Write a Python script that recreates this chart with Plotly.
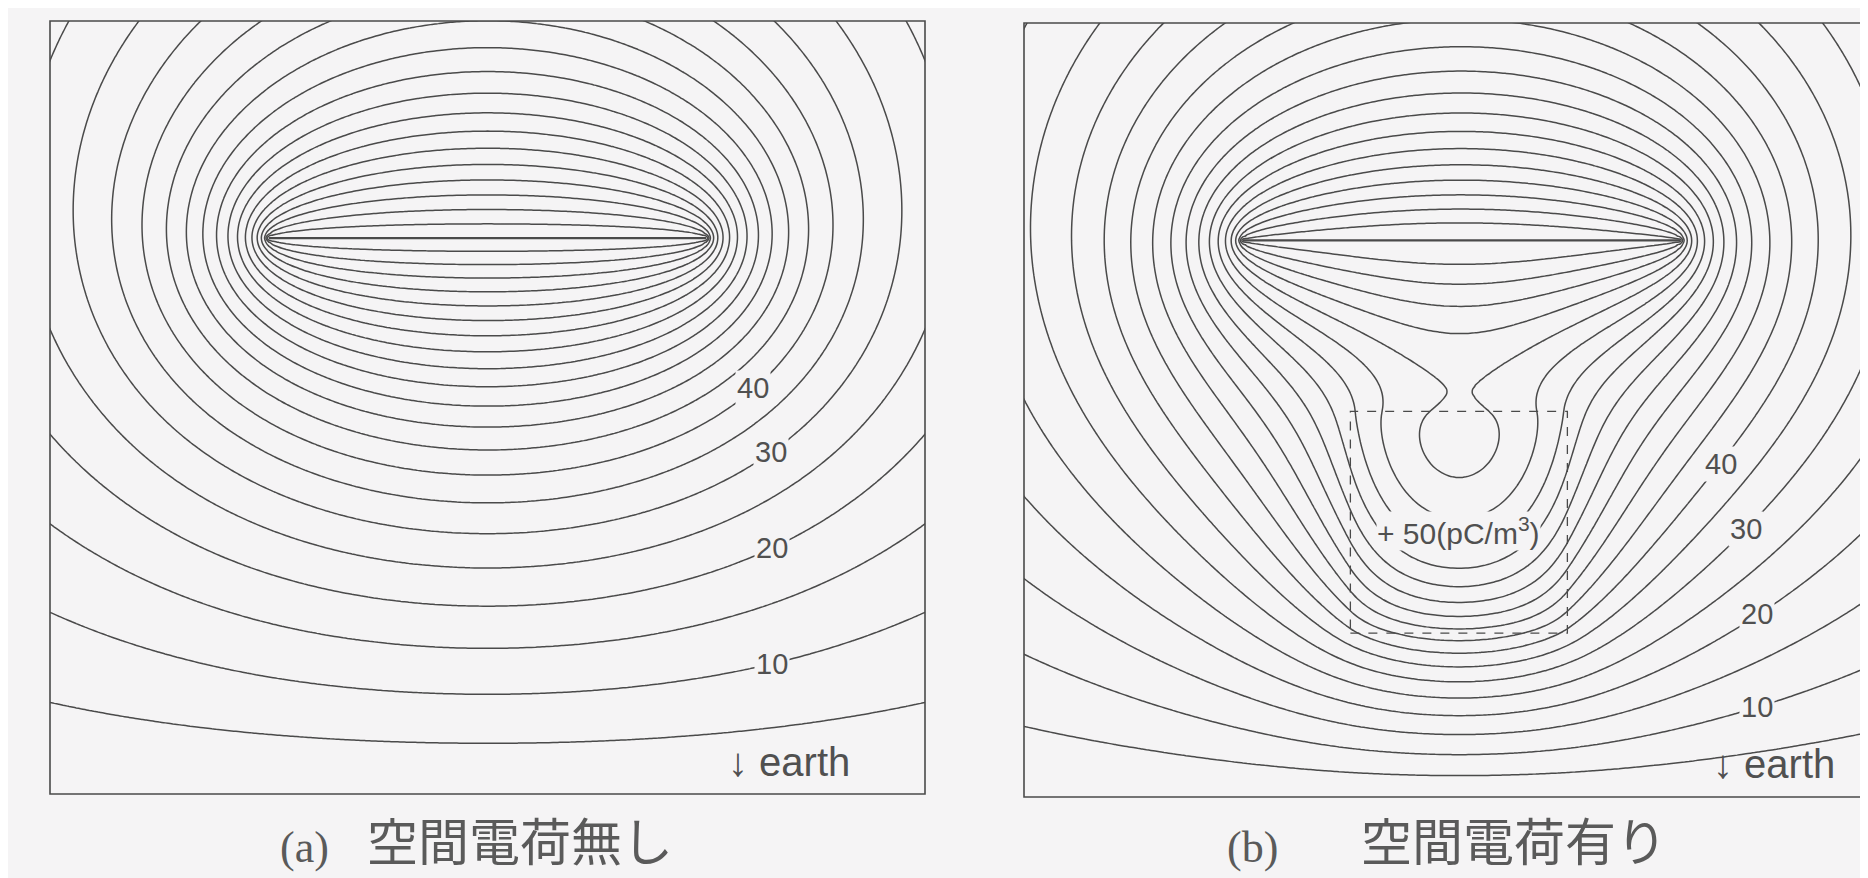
import numpy as np
import plotly.graph_objects as go

# ---------------- values (frame width = 100 units) ----------------
frame_w = 100.0
frame_h = 88.3
electrode_x = [25.0, 75.0]        # plate electrode (seen edge-on)
electrode_y = 63.5                # height above the earth (bottom edge)
electrode_v = 110.0               # electrode potential
levels = [5, 105, 5]              # contour start, end, step
label_levels = [10, 20, 30, 40]
box_x = [37.3, 62.1]              # space charge region (panel b)
box_y = [18.7, 44.0]
box_text = "+ 50(pC/m<sup>3</sup>)"
box_depth = 12.4
space_charge = 0.041              # source strength inside the region (model units)
captions = [("(a)", "空間電荷無し"), ("(b)", "空間電荷有り")]
earth_text = "↓ earth"

xs = np.arange(-3.0, 103.0 + 1e-9, 0.5)
ys = np.arange(0.0, 92.0 + 1e-9, 0.5)
X, Y = np.meshgrid(xs, ys)
xc = 0.5 * (electrode_x[0] + electrode_x[1])
ra = 0.5 * (electrode_x[1] - electrode_x[0])


def disk(r, zeta):
    p1 = np.sqrt((r - ra) ** 2 + zeta ** 2)
    p2 = np.sqrt((r + ra) ** 2 + zeta ** 2)
    return (2 / np.pi) * np.arcsin(np.clip(2 * ra / (p1 + p2), -1, 1))


def electrode_field(px, pz):
    r = np.abs(px - xc)
    return disk(r, pz - electrode_y) - disk(r, pz + electrode_y)


unit = electrode_field(np.array([xc]), np.array([electrode_y]))[0]
Ea = electrode_field(X, Y) / unit
Va = electrode_v * Ea


def prism(px, pz, x0, x1, z0, z1, d):
    tot = np.zeros_like(px, dtype=float)
    with np.errstate(all="ignore"):
        for sx, cx in ((-1, x0), (1, x1)):
            for sy, cy in ((-1, -d), (1, d)):
                for sz, cz in ((-1, z0), (1, z1)):
                    a = cx - px
                    b = cy + 0 * px
                    c = cz - pz
                    r = np.sqrt(a * a + b * b + c * c)
                    f = (a * b * np.log(c + r) + b * c * np.log(a + r) + c * a * np.log(b + r)
                         - 0.5 * a * a * np.arctan(b * c / (a * r))
                         - 0.5 * b * b * np.arctan(c * a / (b * r))
                         - 0.5 * c * c * np.arctan(a * b / (c * r)))
                    tot += sx * sy * sz * np.nan_to_num(f)
    return tot


def space_unit(px, pz, d):
    return (prism(px, pz, box_x[0], box_x[1], box_y[0], box_y[1], d)
            - prism(px, pz, box_x[0], box_x[1], -box_y[1], -box_y[0], d))


dxs = np.linspace(electrode_x[0] + 0.5, electrode_x[1] - 0.5, 41)
shift = np.mean(space_unit(dxs, np.full_like(dxs, electrode_y), box_depth))
Vb = Va + space_charge * (space_unit(X, Y, box_depth) - shift * Ea)


def cross(col, lev):
    for i in range(len(col) - 1):
        if (col[i] - lev) * (col[i + 1] - lev) <= 0 and col[i] != col[i + 1]:
            return ys[i] + (lev - col[i]) / (col[i + 1] - col[i]) * (ys[i + 1] - ys[i])
    return float("nan")


def label_y(V, px, lev):
    j = np.argmin(np.abs(xs - px))
    return cross(V[:, j], lev)


W, Hh = 1868, 878
paper = "#f5f4f5"
ink = "#4a4a4a"
txt = "#505050"
PX = 8.75  # pixels per unit

panels = [
    dict(V=Va, xaxis="x", yaxis="y", px=(42, 917), py=(13, 786), xr=(0, frame_w),
         lab_x=[82.5, 82.5, 82.4, 80.3], earth=(844, 778), cap=(270, 357)),
    dict(V=Vb, xaxis="x2", yaxis="y2", px=(1016, 1868), py=(15, 789), xr=(0, (1868 - 1016) / PX),
         lab_x=[83.8, 83.8, 82.5, 79.7], earth=(1829, 780), cap=(1272, 1351)),
]

fig = go.Figure()
for p in panels:
    fig.add_trace(go.Contour(
        x=xs, y=ys, z=p["V"], xaxis=p["xaxis"], yaxis=p["yaxis"],
        contours=dict(start=levels[0], end=levels[1], size=levels[2], coloring="lines"),
        colorscale=[[0, ink], [1, ink]], showscale=False, line=dict(width=1.5, smoothing=1.0),
        hoverinfo="skip"))
    fig.add_trace(go.Scatter(x=electrode_x, y=[electrode_y, electrode_y], mode="lines",
                             line=dict(color=ink, width=2.2), xaxis=p["xaxis"], yaxis=p["yaxis"],
                             showlegend=False, hoverinfo="skip"))

layout = dict(width=W, height=Hh, margin=dict(l=0, r=0, t=0, b=0), paper_bgcolor=paper,
              plot_bgcolor=paper, showlegend=False)
for k, p in zip(("", "2"), panels):
    layout["xaxis" + k] = dict(domain=[p["px"][0] / W, p["px"][1] / W], range=list(p["xr"]),
                               visible=False, fixedrange=True, anchor="y" + k)
    layout["yaxis" + k] = dict(domain=[1 - p["py"][1] / Hh, 1 - p["py"][0] / Hh], range=[0, frame_h],
                               visible=False, fixedrange=True, anchor="x" + k)
fig.update_layout(**layout)

shapes = [
    dict(type="rect", xref="paper", yref="paper", x0=42 / W, x1=917 / W,
         y0=1 - 786 / Hh, y1=1 - 13 / Hh, line=dict(color=ink, width=1.6)),
    dict(type="rect", xref="paper", yref="paper", x0=1016 / W, x1=1890 / W,
         y0=1 - 789 / Hh, y1=1 - 15 / Hh, line=dict(color=ink, width=1.6)),
    dict(type="rect", xref="x2", yref="y2", x0=box_x[0], x1=box_x[1], y0=box_y[0], y1=box_y[1],
         line=dict(color=ink, width=1.3, dash="dash")),
]
fig.update_layout(shapes=shapes)

lab_font = dict(family="Liberation Sans, Arial, sans-serif", size=29, color=txt)
cap_font = dict(family="Noto Sans CJK JP, sans-serif", size=51, color="#5a5a5a")
lat_font = dict(family="Liberation Serif, serif", size=44, color="#5a5a5a")
for k, p, cap in zip(("", "2"), panels, captions):
    for lev, lx in zip(label_levels, p["lab_x"]):
        ly = label_y(p["V"], lx, lev)
        if not np.isfinite(ly):
            continue
        fig.add_annotation(x=lx, y=ly, xref="x" + k, yref="y" + k, text=str(lev), showarrow=False,
                           font=lab_font, bgcolor=paper, borderpad=1)
    fig.add_annotation(x=p["earth"][0] / W, y=1 - p["earth"][1] / Hh, xref="paper", yref="paper",
                       text=earth_text, showarrow=False, xanchor="right",
                       font=dict(family="Liberation Sans, Arial, sans-serif", size=40, color=txt))
    fig.add_annotation(x=p["cap"][0] / W, y=1 - 866 / Hh, xref="paper", yref="paper", text=cap[0],
                       showarrow=False, font=lat_font)
    fig.add_annotation(x=p["cap"][1] / W, y=1 - 870 / Hh, xref="paper", yref="paper", text=cap[1],
                       showarrow=False, font=cap_font, xanchor="left")

fig.add_annotation(x=0.5 * (box_x[0] + box_x[1]), y=(789 - 523) / PX, xref="x2", yref="y2", text=box_text,
                   showarrow=False, bgcolor=paper, borderpad=0,
                   font=dict(family="Liberation Sans, Arial, sans-serif", size=30, color=txt))

fig.write_html("out.html")
